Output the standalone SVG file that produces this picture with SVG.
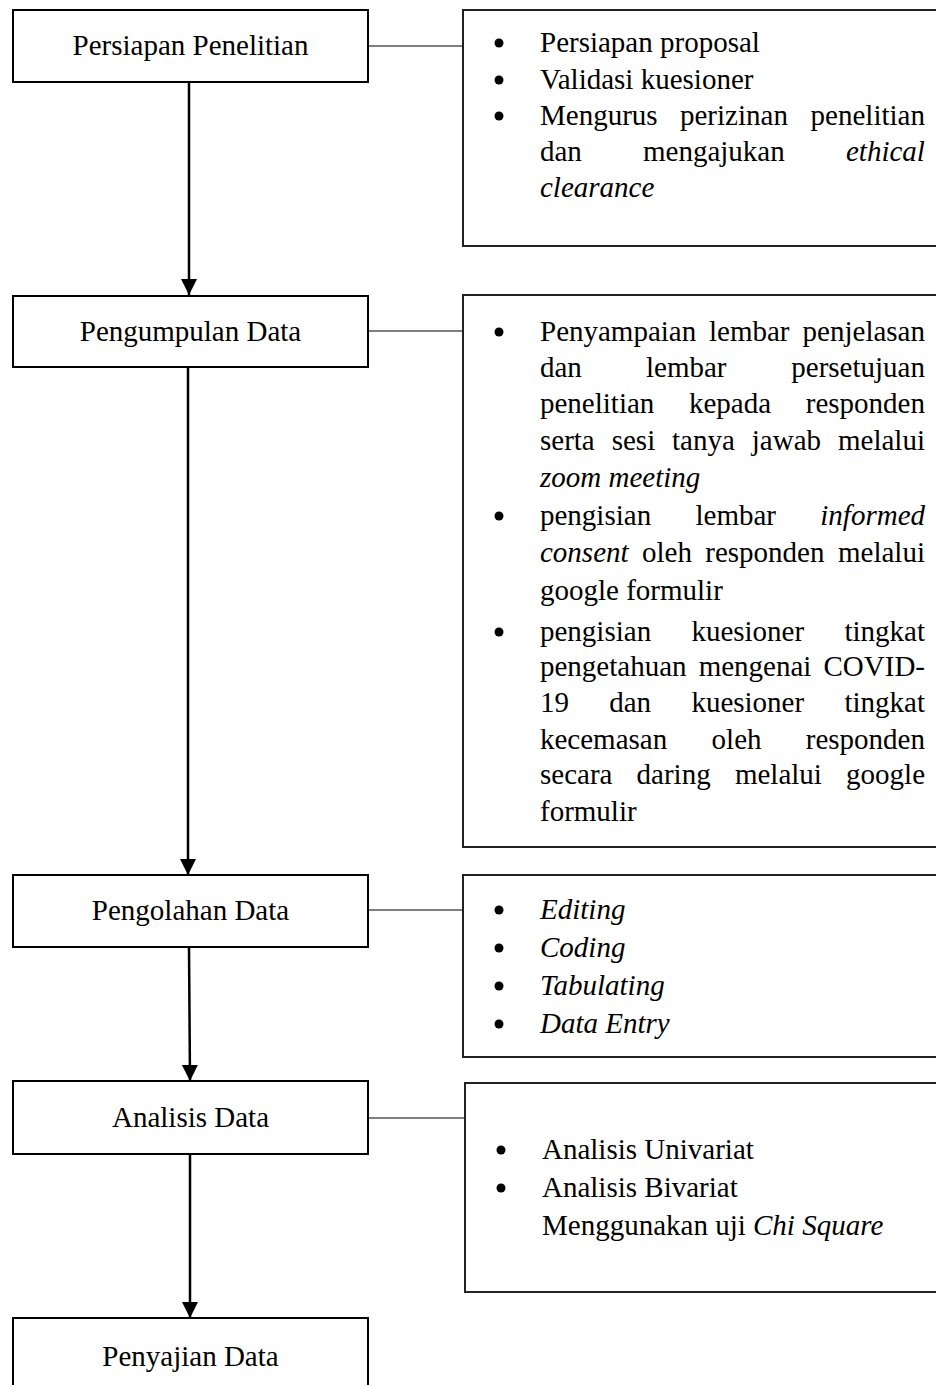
<svg xmlns="http://www.w3.org/2000/svg" width="936" height="1385" viewBox="0 0 936 1385">
<defs>
<style>
.box{fill:#fff;stroke:#000;stroke-width:2}
.rbox{fill:#fff;stroke:#222;stroke-width:2}
.lbl{font-family:"Liberation Serif","Times New Roman",serif;font-size:29px;fill:#000}
.c{text-anchor:middle}
.e{text-anchor:end}
.i{font-style:italic}
.con{stroke:#000;stroke-width:1.2;fill:none}
.arr{stroke:#000;stroke-width:2.5;fill:none}
.bul{fill:#000}
</style>
<marker id="ah" viewBox="0 0 16 16" markerWidth="16" markerHeight="16" refX="16" refY="8" orient="auto" markerUnits="userSpaceOnUse">
<path d="M0,0 L16,8 L0,16 Z" fill="#000"/>
</marker>
</defs>
<rect width="936" height="1385" fill="#fff"/>

<g id="connectors">
<line class="con" x1="368" y1="46" x2="463" y2="46"/>
<line class="con" x1="368" y1="331" x2="463" y2="331"/>
<line class="con" x1="368" y1="910" x2="463" y2="910"/>
<line class="con" x1="368" y1="1118" x2="465" y2="1118"/>
<line class="arr" x1="189" y1="82" x2="189" y2="295" marker-end="url(#ah)"/>
<line class="arr" x1="188" y1="367" x2="188" y2="875" marker-end="url(#ah)"/>
<line class="arr" x1="189" y1="947" x2="190" y2="1081" marker-end="url(#ah)"/>
<line class="arr" x1="190" y1="1154" x2="190" y2="1318" marker-end="url(#ah)"/>
</g>

<g id="n1">
<rect class="box" x="13" y="10" width="355" height="72"/>
<text class="lbl c" x="190.5" y="55">Persiapan Penelitian</text>
</g>
<g id="n1d">
<rect class="rbox" x="463" y="10" width="480" height="236"/>
<circle class="bul" cx="499" cy="43" r="4.5"/>
<circle class="bul" cx="499" cy="80" r="4.5"/>
<circle class="bul" cx="499" cy="116" r="4.5"/>
<text class="lbl" x="540" y="52">Persiapan proposal</text>
<text class="lbl" x="540" y="89">Validasi kuesioner</text>
<text class="lbl" y="125"><tspan x="540">Mengurus</tspan><tspan x="680">perizinan</tspan><tspan x="810.6">penelitian</tspan></text>
<text class="lbl" y="161"><tspan x="540">dan</tspan><tspan x="643">mengajukan</tspan><tspan class="i" x="846">ethical</tspan></text>
<text class="lbl i" x="540" y="197">clearance</text>
</g>

<g id="n2">
<rect class="box" x="13" y="296" width="355" height="71"/>
<text class="lbl c" x="190.5" y="341">Pengumpulan Data</text>
</g>
<g id="n2d">
<rect class="rbox" x="463" y="295" width="480" height="552"/>
<circle class="bul" cx="499" cy="332" r="4.5"/>
<circle class="bul" cx="499" cy="516" r="4.5"/>
<circle class="bul" cx="499" cy="632" r="4.5"/>
<text class="lbl" y="341"><tspan x="540">Penyampaian</tspan><tspan x="709">lembar</tspan><tspan x="802.6">penjelasan</tspan></text>
<text class="lbl" y="377"><tspan x="540">dan</tspan><tspan x="646">lembar</tspan><tspan x="791.3">persetujuan</tspan></text>
<text class="lbl" y="413"><tspan x="540">penelitian</tspan><tspan x="689">kepada</tspan><tspan x="805.8">responden</tspan></text>
<text class="lbl" y="450"><tspan x="540">serta</tspan><tspan x="611.7">sesi</tspan><tspan x="672">tanya</tspan><tspan x="751.8">jawab</tspan><tspan x="838">melalui</tspan></text>
<text class="lbl i" x="540" y="487">zoom meeting</text>
<text class="lbl" y="525"><tspan x="540">pengisian</tspan><tspan x="695.5">lembar</tspan><tspan class="i" x="820.3">informed</tspan></text>
<text class="lbl" y="562"><tspan class="i" x="540">consent</tspan><tspan x="642">oleh</tspan><tspan x="705.3">responden</tspan><tspan x="838">melalui</tspan></text>
<text class="lbl" x="540" y="600">google formulir</text>
<text class="lbl" y="641"><tspan x="540">pengisian</tspan><tspan x="691.4">kuesioner</tspan><tspan x="844.4">tingkat</tspan></text>
<text class="lbl" y="676"><tspan x="540">pengetahuan</tspan><tspan x="698.7">mengenai</tspan><tspan x="823.5">COVID-</tspan></text>
<text class="lbl" y="712"><tspan x="540">19</tspan><tspan x="609.2">dan</tspan><tspan x="691.4">kuesioner</tspan><tspan x="844.4">tingkat</tspan></text>
<text class="lbl" y="749"><tspan x="540">kecemasan</tspan><tspan x="711.6">oleh</tspan><tspan x="805.8">responden</tspan></text>
<text class="lbl" y="784"><tspan x="540">secara</tspan><tspan x="636.6">daring</tspan><tspan x="734.9">melalui</tspan><tspan x="846.1">google</tspan></text>
<text class="lbl" x="540" y="821">formulir</text>
</g>

<g id="n3">
<rect class="box" x="13" y="875" width="355" height="72"/>
<text class="lbl c" x="190.5" y="920">Pengolahan Data</text>
</g>
<g id="n3d">
<rect class="rbox" x="463" y="875" width="480" height="182"/>
<circle class="bul" cx="499" cy="910" r="4.5"/>
<circle class="bul" cx="499" cy="948" r="4.5"/>
<circle class="bul" cx="499" cy="986" r="4.5"/>
<circle class="bul" cx="499" cy="1024" r="4.5"/>
<text class="lbl i" x="540" y="919">Editing</text>
<text class="lbl i" x="540" y="957">Coding</text>
<text class="lbl i" x="540" y="995">Tabulating</text>
<text class="lbl i" x="540" y="1033">Data Entry</text>
</g>

<g id="n4">
<rect class="box" x="13" y="1081" width="355" height="73"/>
<text class="lbl c" x="190.5" y="1127">Analisis Data</text>
</g>
<g id="n4d">
<rect class="rbox" x="465" y="1083" width="480" height="209"/>
<circle class="bul" cx="501" cy="1150" r="4.5"/>
<circle class="bul" cx="501" cy="1188" r="4.5"/>
<text class="lbl" x="542" y="1159">Analisis Univariat</text>
<text class="lbl" x="542" y="1197">Analisis Bivariat</text>
<text class="lbl" x="542" y="1235">Menggunakan uji <tspan class="i">Chi Square</tspan></text>
</g>

<g id="n5">
<rect class="box" x="13" y="1318" width="355" height="80"/>
<text class="lbl c" x="190.5" y="1366">Penyajian Data</text>
</g>
</svg>
